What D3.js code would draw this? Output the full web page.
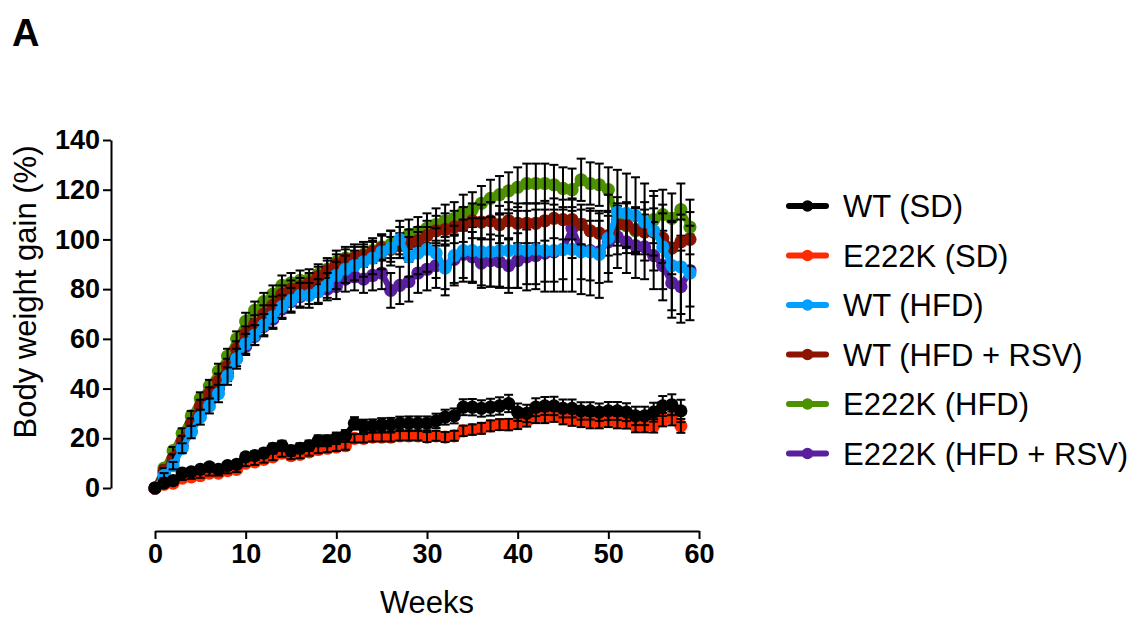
<!DOCTYPE html>
<html>
<head>
<meta charset="utf-8">
<script src="https://cdn.jsdelivr.net/npm/d3@7"></script>
<style>
  html, body { margin: 0; padding: 0; background: #fff; }
  svg { display: block; }
  text { font-family: "Liberation Sans", Arial, Helvetica, sans-serif; }
</style>
</head>
<body>
<svg id="chart" width="1136" height="619"></svg>
<script>
// ---------------- DATA ----------------
const weeksHFD = d3.range(0, 60);   // 0..59
const weeksSD  = d3.range(0, 59);   // 0..58

const seriesNames = ["WT (SD)", "E222K (SD)", "WT (HFD)", "WT (HFD + RSV)", "E222K (HFD)", "E222K (HFD + RSV)"];
const seriesColors = ["#000000", "#ff2a00", "#00a0ff", "#8c1400", "#4c9100", "#5a1f9e"];

const wtSD = [0,2,3,6,6.5,7.5,8.5,7.5,9,9.5,12.5,13,14,16,17,15,16,17,19,19,20,21,26,25,25,25.5,25.5,26,26,26,26,27,28.5,29,32.5,32.5,32,32.5,33,34,30.5,30,32.5,33,33,32,32,31,31,30.5,31,31,30.5,29,29,30.5,33,33.5,31];
const wtSDerr = [0,0.5,0.8,1,1,1.2,1.2,1.3,1.4,1.5,1.6,1.7,1.8,1.9,2,2,2,2.1,2.2,2.2,2.3,2.3,2.5,2.5,2.6,2.6,2.7,2.7,2.8,2.8,2.8,2.9,3,3,3.2,3.3,3.3,3.4,3.5,3.5,3.5,3.5,3.6,3.6,3.7,3.6,3.6,3.5,3.5,3.5,3.6,3.6,3.6,3.7,3.7,3.8,4,4.2,4.5];

const e222kSD = [0,1.5,2,4,4.5,5,6,6,7,7.5,10,10.5,11.5,12.5,14,13,13.5,14.5,15.5,16,16.5,17,20,20,20.5,20.5,20.5,21,21,21,20.5,21,20.5,21,23,23.5,24,25,25.5,25.5,26,27,28.5,28.5,29,28,27.5,27,26.5,26.5,27,26.5,26.5,25,25,25,27.5,28,25];
const e222kSDerr = [0,0.5,0.6,0.8,0.8,0.9,1,1,1.1,1.1,1.2,1.2,1.3,1.3,1.4,1.4,1.5,1.5,1.5,1.6,1.6,1.6,1.7,1.7,1.8,1.8,1.8,1.9,1.9,1.9,2,2,2,2,2.1,2.1,2.2,2.2,2.2,2.3,2.3,2.3,2.4,2.4,2.4,2.4,2.5,2.5,2.5,2.5,2.5,2.5,2.6,2.6,2.6,2.7,2.7,2.8,2.8];

const wtHFD = [0,5,9,16,22.5,28.5,33,38,45,52,58,61.5,65.5,69,73,75.5,77.5,77.5,79,81.5,85.5,88,89.5,91,92.5,95,96.5,100,93,94.5,96,94.5,88.5,93.5,95.5,95.5,95,95,95.5,95.5,96,95.5,96,95.5,95.5,96,96,95,95,94,100.5,111,110.5,109.5,107,103.5,97,89.5,89,86.5];
const wtHFDerr = [0,1,1.5,2,2.5,3,3,3.5,3.5,4,4,4,4.5,4.5,4.5,5,5,5,5,5,5.5,5.5,6,6,6.5,7,7,7.5,8,8.5,9,10,11,12,12.5,13,13.5,14,14.5,15,15.5,16,16,16.5,16.5,17,17,17,17.5,17.5,17.5,17,16,15.5,15.5,16,17,18,19,19];

const wtHFDRSV = [0,7,12,19,26,33,38,43,49,56,62,66,70,73.5,78,80,81,82.5,85,87.5,90,92,92.5,93.5,95,96.5,96,97.5,98.5,99.5,101.5,103.5,104,105,106,107.5,107,107.5,106,107.5,106.5,106.5,106.5,107.5,108.5,108,108,106,103.5,102.5,101.5,106,106,104,103,103,100.5,96.5,99,100];
const wtHFDRSVerr = [0,1,1.5,2,2,2.5,2.5,3,3,3,3,3.5,3.5,3.5,3.5,3.5,3.5,4,4,4,4,4,4.5,4.5,4.5,5,5,5,5.5,5.5,6,6,6.5,6.5,7,7,7,7.5,7.5,7.5,8,8,8,8,8,8,8,8,8,8,8,8.5,9,9,9,9.5,10,10.5,11,11];

const e222kHFD = [0,8,15,22,29,36,41,47,53,60,67,71.5,75,78,81.5,82.5,83.5,84,86,88,91,92.5,93,94,95.5,97,98,99.5,102,103,104.5,106,107.5,108.5,111,112,114.5,116.5,118,119.5,121,122.5,122.5,122.5,122,120.5,120,124,122.5,122,120,108,105.5,103.5,105.5,108,110,108.5,112,105];
const e222kHFDerr = [0,1,1.5,2,2,2.5,2.5,3,3,3,3.5,3.5,3.5,3.5,4,4,4,4,4,4.5,4.5,4.5,5,5,5,5,5.5,5.5,6,6,6,6.5,6.5,6.5,7,7,7,7.5,7.5,7.5,8,8,8,8,8,8.5,8.5,8.5,8.5,8.5,9,9,9,9,9.5,9.5,10,10,10.5,11];

const e222kHFDRSV = [0,6,11,17,23,30,35,40,46,52,57,61,65,68,72,75,77,78,79,80,81,84,85,84,85.5,86.5,79.5,81.5,83,86.5,88,89.5,89,92,94,93,90.5,91.5,91,89.5,91.5,93,93.5,94.5,95,96,104.5,96,95.5,95,99,101,99,97.5,97,93.5,89.5,82.5,81,87.5];
const e222kHFDRSVerr = [0,1,1.5,2,2,2.5,2.5,3,3,3,3.5,3.5,3.5,4,4,4,4,4,4.5,4.5,5,5,5.5,5.5,6,6.5,7,7.5,8,8,8.5,9,9,9.5,9.5,10,10,10.5,10.5,11,11,11,11.5,11.5,12,12,12,12,12,12.5,12.5,12.5,12.5,13,13,13.5,14,14,14.5,14.5];

const yTicks = [0, 20, 40, 60, 80, 100, 120, 140];
const xTicks = [0, 10, 20, 30, 40, 50, 60];

// ---------------- BUILD ----------------
const series = [
  {name: seriesNames[0], color: seriesColors[0], weeks: weeksSD,  vals: wtSD,        err: wtSDerr},
  {name: seriesNames[1], color: seriesColors[1], weeks: weeksSD,  vals: e222kSD,     err: e222kSDerr},
  {name: seriesNames[2], color: seriesColors[2], weeks: weeksHFD, vals: wtHFD,       err: wtHFDerr},
  {name: seriesNames[3], color: seriesColors[3], weeks: weeksHFD, vals: wtHFDRSV,    err: wtHFDRSVerr},
  {name: seriesNames[4], color: seriesColors[4], weeks: weeksHFD, vals: e222kHFD,    err: e222kHFDerr},
  {name: seriesNames[5], color: seriesColors[5], weeks: weeksHFD, vals: e222kHFDRSV, err: e222kHFDRSVerr}
];
// drawing order (bottom -> top)
const drawOrder = [4, 5, 3, 2, 1, 0];

const svg = d3.select("#chart");
const x = d3.scaleLinear().domain([0, 60]).range([155, 699]);
const y = d3.scaleLinear().domain([0, 140]).range([488, 140]);
const yAxisX = 111, xAxisY = 531;

// axes
const yAxis = d3.axisLeft(y).tickValues(yTicks).tickSize(8).tickSizeOuter(0).tickPadding(3);
const xAxis = d3.axisBottom(x).tickValues(xTicks).tickSize(8).tickSizeOuter(0).tickPadding(5);

const gy = svg.append("g").attr("transform", `translate(${yAxisX},0)`).call(yAxis);
const gx = svg.append("g").attr("transform", `translate(0,${xAxisY})`).call(xAxis);
[gy, gx].forEach(g => {
  g.select(".domain").attr("stroke", "#000").attr("stroke-width", 2);
  g.selectAll(".tick line").attr("stroke", "#000").attr("stroke-width", 2);
  g.selectAll(".tick text").attr("fill", "#000").style("font-size", "27px").style("font-weight", "bold")
    .style("font-family", '"Liberation Sans", Arial, sans-serif');
});

// series
const line = d3.line().x(d => x(d[0])).y(d => y(d[1]));
const plot = svg.append("g");
drawOrder.forEach(i => {
  const s = series[i];
  const pts = s.weeks.map((w, k) => [w, s.vals[k], s.err[k]]);
  const g = plot.append("g");
  g.append("path").datum(pts).attr("d", line)
    .attr("fill", "none").attr("stroke", s.color).attr("stroke-width", 6).attr("stroke-linejoin", "round");
  g.selectAll("circle").data(pts).join("circle")
    .attr("cx", d => x(d[0])).attr("cy", d => y(d[1])).attr("r", 6.6).attr("fill", s.color);
  const eb = g.append("g").attr("stroke", "#000").attr("stroke-width", 2);
  pts.filter(d => d[2] > 0.4).forEach(d => {
    const cx = x(d[0]), y1 = y(d[1] + d[2]), y2 = y(d[1] - d[2]);
    eb.append("line").attr("x1", cx).attr("x2", cx).attr("y1", y1).attr("y2", y2);
    eb.append("line").attr("x1", cx - 4.5).attr("x2", cx + 4.5).attr("y1", y1).attr("y2", y1);
    eb.append("line").attr("x1", cx - 4.5).attr("x2", cx + 4.5).attr("y1", y2).attr("y2", y2);
  });
});

// axis titles
svg.append("text").attr("transform", "translate(36,292) rotate(-90)")
  .attr("text-anchor", "middle").style("font-size", "31px").attr("fill", "#000")
  .text("Body weight gain (%)");
svg.append("text").attr("x", 427).attr("y", 613)
  .attr("text-anchor", "middle").style("font-size", "31px").attr("fill", "#000")
  .text("Weeks");

// panel letter
svg.append("text").attr("x", 12).attr("y", 46)
  .style("font-size", "38px").style("font-weight", "bold").attr("fill", "#000").text("A");

// legend
const legY0 = 206, legDY = 49.5;
const leg = svg.append("g");
seriesNames.forEach((n, i) => {
  const yy = legY0 + i * legDY;
  leg.append("line").attr("x1", 789).attr("x2", 826).attr("y1", yy).attr("y2", yy)
    .attr("stroke", seriesColors[i]).attr("stroke-width", 6).attr("stroke-linecap", "round");
  leg.append("circle").attr("cx", 807.5).attr("cy", yy).attr("r", 5.8).attr("fill", seriesColors[i]);
  leg.append("text").attr("x", 843).attr("y", yy + 11).style("font-size", "31px").attr("fill", "#000").text(n);
});
</script>
</body>
</html>
